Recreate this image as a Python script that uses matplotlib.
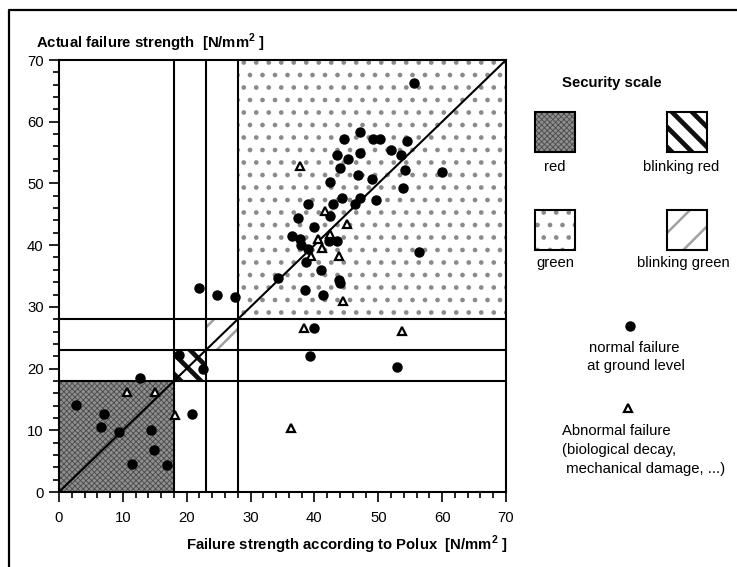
import matplotlib
matplotlib.use('Agg')
import matplotlib.pyplot as plt
import matplotlib.hatch as mhatch
from matplotlib.patches import Rectangle
from matplotlib.lines import Line2D
from matplotlib.ticker import MultipleLocator

plt.rcParams['font.family'] = ['Liberation Sans', 'DejaVu Sans']
plt.rcParams['mathtext.fontset'] = 'custom'
plt.rcParams['mathtext.rm'] = 'Liberation Sans'
plt.rcParams['mathtext.bf'] = 'Liberation Sans:bold'


# dot texture a bit denser and larger than the default '.' hatch
def _dots_init(self, hatch, density):
    self.num_rows = hatch.count('.') * 8
    mhatch.Circles.__init__(self, hatch, density)


mhatch.SmallFilledCircles.__init__ = _dots_init
mhatch.SmallFilledCircles.size = 0.13


# slightly denser '\' stripes
def _se_init(self, hatch, density):
    self.num_lines = int(hatch.count('\\') * 10 +
                         (hatch.count('x') + hatch.count('X')) * density)
    self.num_vertices = (self.num_lines + 1) * 2 if self.num_lines else 0


mhatch.SouthEastHatch.__init__ = _se_init

# ---------------- data ----------------
normal_x = [2.7, 7.0, 6.6, 9.4, 14.4, 14.8, 11.5, 16.9, 12.7, 20.8, 18.8, 22.6,
            21.9, 24.7, 27.6, 38.6, 40.0, 39.3, 53.0,
            55.6, 47.1, 44.6, 49.2, 50.3, 54.5, 52.0, 53.5, 47.1, 43.5, 45.3,
            44.0, 54.2, 59.9, 46.8, 49.0, 42.5, 53.8, 44.3, 47.1, 49.6, 39.0,
            42.9, 46.4, 42.5, 37.5, 40.0, 36.5, 37.8, 37.9, 42.3, 43.6, 39.0,
            38.7, 56.4, 41.1, 34.3, 43.9, 44.0, 41.4]
normal_y = [14.1, 12.6, 10.5, 9.7, 10.1, 6.8, 4.6, 4.3, 18.4, 12.6, 22.2, 19.9,
            33.1, 32.0, 31.6, 32.7, 26.5, 22.1, 20.3,
            66.3, 58.3, 57.2, 57.2, 57.2, 56.8, 55.4, 54.6, 55.0, 54.6, 53.9,
            52.5, 52.1, 51.8, 51.3, 50.7, 50.2, 49.2, 47.7, 47.7, 47.3, 46.6,
            46.6, 46.6, 44.8, 44.4, 42.9, 41.5, 41.0, 40.1, 40.7, 40.7, 39.4,
            37.2, 38.9, 36.0, 34.6, 34.4, 33.8, 31.9]
abnormal_x = [10.6, 15.1, 18.1, 36.3, 38.4, 53.7, 37.8, 41.7, 45.1, 40.6, 42.4,
              41.2, 39.4, 43.9, 44.5]
abnormal_y = [16.2, 16.2, 12.5, 10.4, 26.6, 26.1, 52.9, 45.5, 43.5, 41.0, 41.8,
              39.6, 38.2, 38.3, 31.0]

thresholds = [18, 23, 28]
axis_max = 70
tick_values = [0, 10, 20, 30, 40, 50, 60, 70]

y_label = r'Actual failure strength  [N/mm$^{\mathbf{2}}$ ]'
x_label = r'Failure strength according to Polux  [N/mm$^{\mathbf{2}}$ ]'
legend_title = 'Security scale'
zone_names = ['red', 'blinking red', 'green', 'blinking green']
normal_label = 'normal failure\n at ground level'
abnormal_label = 'Abnormal failure\n(biological decay,\n mechanical damage, ...)'

# ---------------- styles ----------------
W, H = 737, 567
FS = 10.7
zone_styles = {
    'red': dict(facecolor='#8e8e8e', edgecolor='#4a4a4a', hatch='xxxxxx'),
    'blinking red': dict(facecolor='white', edgecolor='#111111', hatch='\\'),
    'green': dict(facecolor='white', edgecolor='#8a8a8a', hatch='.'),
    'blinking green': dict(facecolor='white', edgecolor='#a0a0a0', hatch='/'),
}
hatch_lw = {'red': 0.6, 'blinking red': 3.4, 'green': 1.0, 'blinking green': 1.8}


def styled_rect(xy, w, h, name, **kw):
    st = zone_styles[name]
    old = plt.rcParams['hatch.linewidth']
    plt.rcParams['hatch.linewidth'] = hatch_lw[name]
    r = Rectangle(xy, w, h, facecolor=st['facecolor'], edgecolor=st['edgecolor'],
                  hatch=st['hatch'], linewidth=0, **kw)
    try:
        r.set_hatch_linewidth(hatch_lw[name])
    except Exception:
        pass
    plt.rcParams['hatch.linewidth'] = old
    return r


fig = plt.figure(figsize=(W / 100, H / 100), dpi=100)
ax = fig.add_axes([59 / W, (H - 492) / H, (506 - 59) / W, (492 - 60) / H])
ax.set_xlim(0, axis_max)
ax.set_ylim(0, axis_max)

t0, t1, t2 = thresholds
# zones
ax.add_patch(styled_rect((0, 0), t0, t0, 'red', zorder=1))
ax.add_patch(styled_rect((t0, t0), t1 - t0, t1 - t0, 'blinking red', zorder=1))
ax.add_patch(styled_rect((t1, t1), t2 - t1, t2 - t1, 'blinking green', zorder=1))
ax.add_patch(styled_rect((t2, t2), axis_max - t2, axis_max - t2, 'green', zorder=1))

# threshold lines
for t in thresholds:
    ax.axvline(t, color='black', lw=1.5, zorder=2)
    ax.axhline(t, color='black', lw=1.5, zorder=2)
ax.plot([0, axis_max], [0, axis_max], color='black', lw=1.5, zorder=2)

# points
ax.plot(normal_x, normal_y, 'o', color='black', markersize=6.5, zorder=4,
        linestyle='none')
ax.plot(abnormal_x, abnormal_y, '^', markerfacecolor='white',
        markeredgecolor='black', markeredgewidth=1.6, markersize=6, zorder=4,
        linestyle='none')

ax.set_xticks(tick_values)
ax.set_yticks(tick_values)
ax.xaxis.set_minor_locator(MultipleLocator(2))
ax.yaxis.set_minor_locator(MultipleLocator(2))
ax.tick_params(which='major', direction='out', length=7, width=1.2,
               labelsize=FS, pad=4)
ax.tick_params(which='minor', direction='out', length=4, width=1.2)
ax.tick_params(axis='x', which='major', pad=7)
for s in ax.spines.values():
    s.set_linewidth(1.5)

# labels
fig.text(36 / W, 1 - 43 / H, y_label, fontsize=FS, fontweight='bold',
         ha='left', va='center')
fig.text(347 / W, 1 - 545 / H, x_label, fontsize=FS, fontweight='bold',
         ha='center', va='center')

# outer border (only top and left edges are inside the picture)
fig.add_artist(Line2D([9 / W, 9 / W, 1.0], [0.0, 1 - 10 / H, 1 - 10 / H],
                      transform=fig.transFigure, color='black', lw=1.6))

# legend
fig.text(612 / W, 1 - 83 / H, legend_title, fontsize=FS, fontweight='bold',
         ha='center', va='center')
box_pos = {'red': (535, 112), 'blinking red': (667, 112),
           'green': (535, 210), 'blinking green': (667, 210)}
label_pos = {'red': (555, 167), 'blinking red': (681, 167),
             'green': (555, 263), 'blinking green': (683, 263)}
for name in zone_names:
    bx, by = box_pos[name]
    r = styled_rect((bx / W, 1 - (by + 40) / H), 40 / W, 40 / H, name,
                    transform=fig.transFigure)
    fig.add_artist(r)
    fig.add_artist(Rectangle((bx / W, 1 - (by + 40) / H), 40 / W, 40 / H,
                             transform=fig.transFigure, fill=False,
                             edgecolor='black', lw=1.5))
    lx, ly = label_pos[name]
    fig.text(lx / W, 1 - ly / H, name, fontsize=FS, ha='center', va='center')

fig.add_artist(Line2D([630 / W], [1 - 326 / H], marker='o', color='black',
                      markersize=6.5, transform=fig.transFigure))
fig.text(634 / W, 1 - 357 / H, normal_label, fontsize=FS, ha='center',
         va='center', linespacing=1.4)
fig.add_artist(Line2D([628 / W], [1 - 408 / H], marker='^',
                      markerfacecolor='white', markeredgecolor='black',
                      markeredgewidth=1.6, markersize=5.5,
                      transform=fig.transFigure))
fig.text(562 / W, 1 - 450 / H, abnormal_label, fontsize=FS, ha='left',
         va='center', linespacing=1.42)

fig.savefig('out.png', dpi=100)
